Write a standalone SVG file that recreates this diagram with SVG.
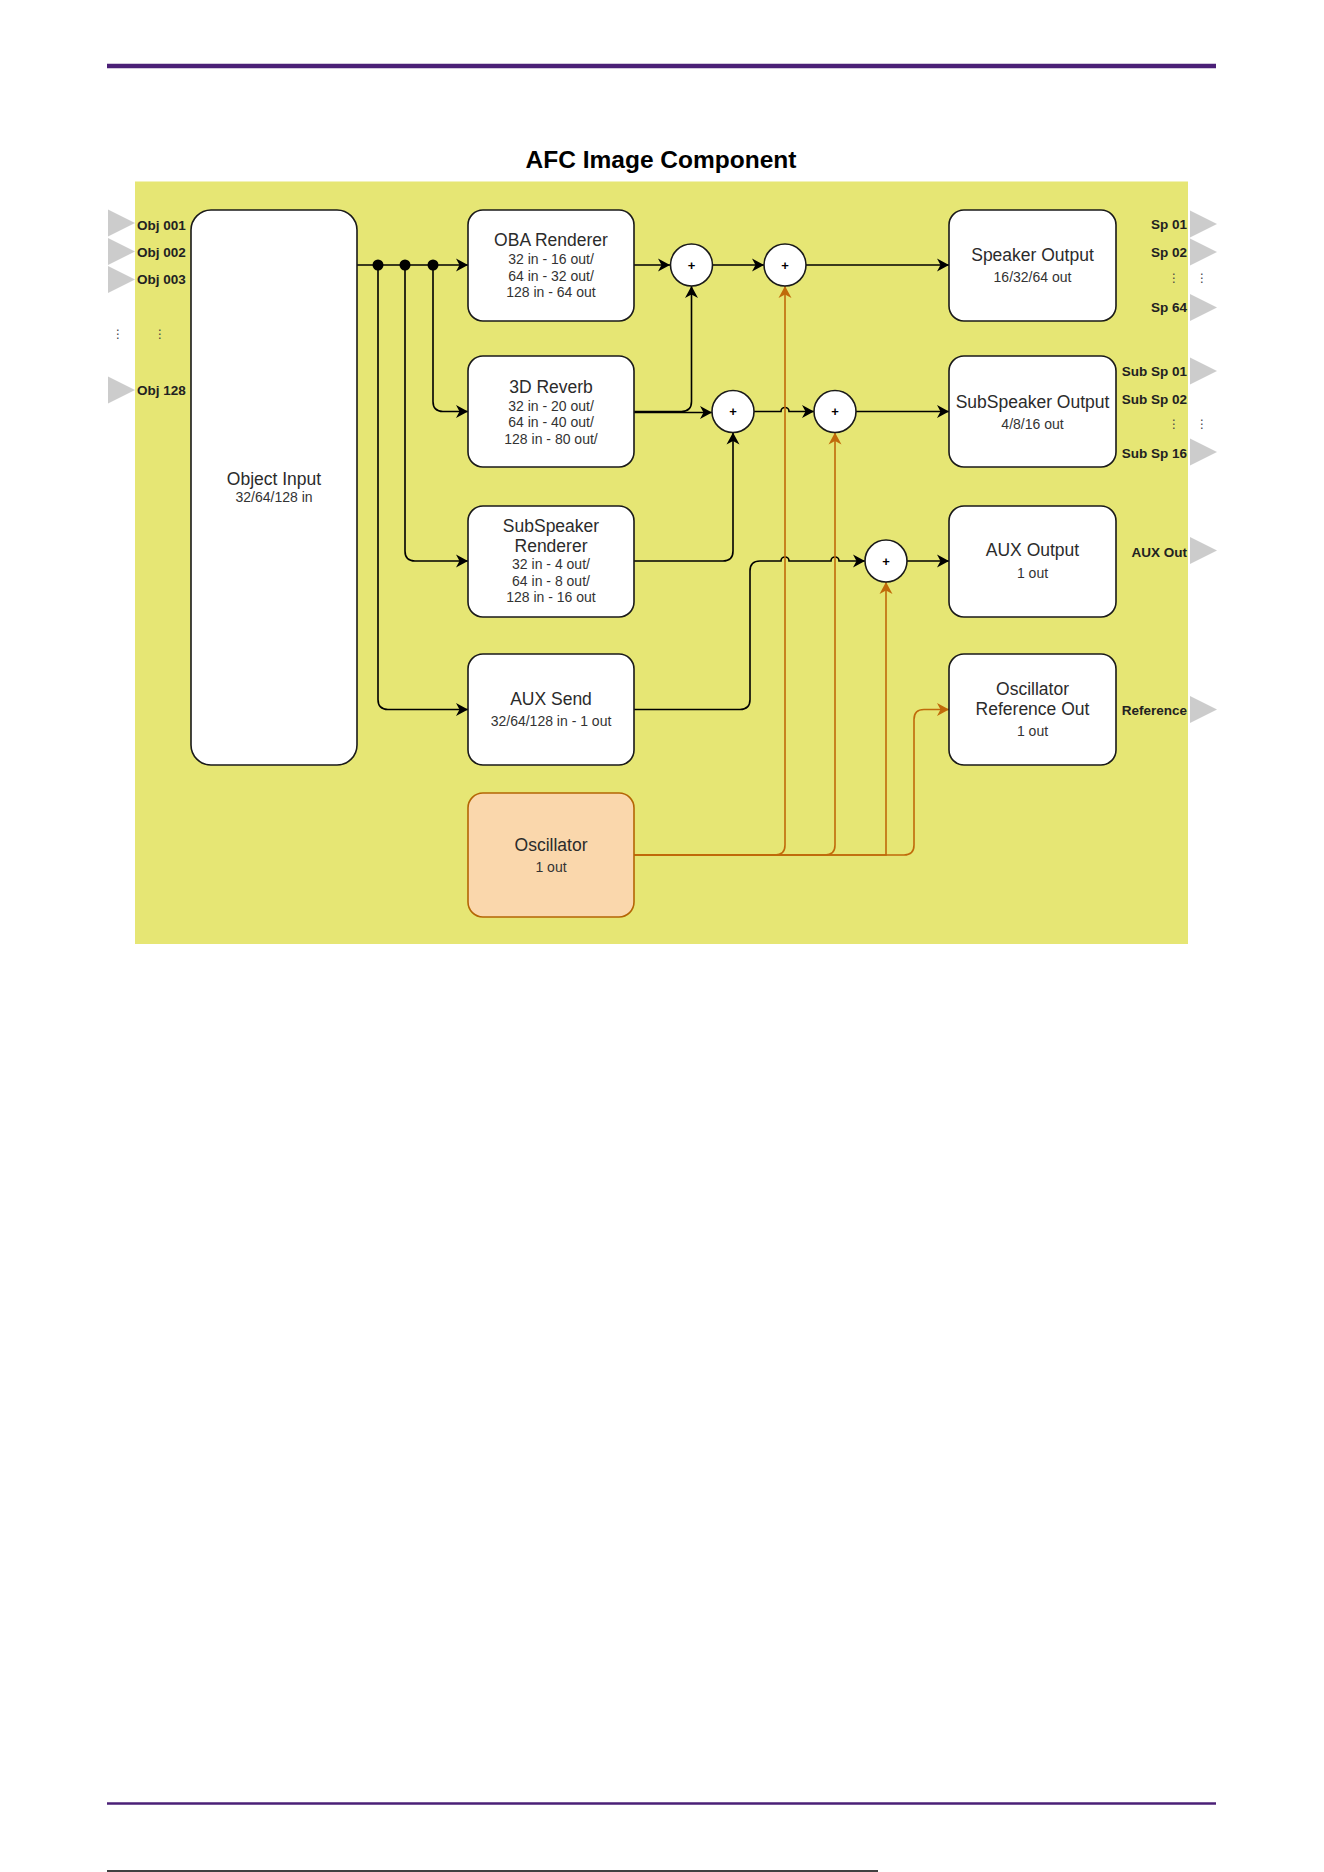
<svg xmlns="http://www.w3.org/2000/svg" width="1324" height="1872" viewBox="0 0 1324 1872">
<defs>
<style>
.node{fill:#fff;stroke:#1a1a1a;stroke-width:1.6}
.osc{fill:#fad7ac;stroke:#b46504;stroke-width:1.6}
.t{font-family:"Liberation Sans",Arial,sans-serif;font-size:17.5px;fill:#2b2b2b;text-anchor:middle}
.s{font-family:"Liberation Sans",Arial,sans-serif;font-size:14px;fill:#333;text-anchor:middle}
.lbl{font-family:"Liberation Sans",Arial,sans-serif;font-size:13.5px;font-weight:bold;fill:#222}
.dots{font-family:"DejaVu Sans",sans-serif;font-size:12px;fill:#444;text-anchor:middle}
.port{fill:#cccccc}
.sum{fill:#fff;stroke:#1a1a1a;stroke-width:1.6}
.plus{font-family:"Liberation Sans",Arial,sans-serif;font-size:13px;font-weight:bold;fill:#000;text-anchor:middle}
.w{fill:none;stroke:#000;stroke-width:1.6}
.o{fill:none;stroke:#c06a0a;stroke-width:1.6}
</style>
<marker id="ab" markerUnits="userSpaceOnUse" markerWidth="13" markerHeight="14" refX="12" refY="7" orient="auto">
<path d="M0,0.5 L12,7 L0,13.5 L3.5,7 Z" fill="#000"/>
</marker>
<marker id="ao" markerUnits="userSpaceOnUse" markerWidth="13" markerHeight="14" refX="12" refY="7" orient="auto">
<path d="M0,0.5 L12,7 L0,13.5 L3.5,7 Z" fill="#c06a0a"/>
</marker>
</defs>
<rect width="1324" height="1872" fill="#fff"/>
<line x1="107" y1="66" x2="1216" y2="66" stroke="#4b2077" stroke-width="4.5"/>
<line x1="107" y1="1803.5" x2="1216" y2="1803.5" stroke="#4b2077" stroke-width="2.5"/>
<line x1="107" y1="1871" x2="878" y2="1871" stroke="#000" stroke-width="1.5"/>
<text x="661" y="168" font-family="Liberation Sans, Arial, sans-serif" font-size="24.5" font-weight="bold" fill="#000" text-anchor="middle">AFC Image Component</text>
<rect id="container" x="135" y="181.5" width="1053" height="762.5" fill="#e6e674"/>
<g id="input-ports">
<polygon class="port" points="108,209.5 135,223 108,236.5"/>
<polygon class="port" points="108,238 135,251.5 108,265"/>
<polygon class="port" points="108,266 135,279.5 108,293"/>
<polygon class="port" points="108,376.5 135,390 108,403.5"/>
<text class="lbl" x="137" y="229.5">Obj 001</text>
<text class="lbl" x="137" y="257">Obj 002</text>
<text class="lbl" x="137" y="284">Obj 003</text>
<text class="lbl" x="137" y="395">Obj 128</text>
<text class="dots" x="118" y="338">⋮</text>
<text class="dots" x="160" y="338">⋮</text>
</g>
<g id="output-ports">
<polygon class="port" points="1190,210.5 1217,224 1190,237.5"/>
<polygon class="port" points="1190,238.5 1217,252 1190,265.5"/>
<polygon class="port" points="1190,294 1217,307.5 1190,321"/>
<polygon class="port" points="1190,357.5 1217,371 1190,384.5"/>
<polygon class="port" points="1190,438.5 1217,452 1190,465.5"/>
<polygon class="port" points="1190,537 1217,550.5 1190,564"/>
<polygon class="port" points="1190,696 1217,709.5 1190,723"/>
<text class="lbl" x="1187" y="229" text-anchor="end">Sp 01</text>
<text class="lbl" x="1187" y="257" text-anchor="end">Sp 02</text>
<text class="lbl" x="1187" y="312" text-anchor="end">Sp 64</text>
<text class="lbl" x="1187" y="376" text-anchor="end">Sub Sp 01</text>
<text class="lbl" x="1187" y="404" text-anchor="end">Sub Sp 02</text>
<text class="lbl" x="1187" y="457.5" text-anchor="end">Sub Sp 16</text>
<text class="lbl" x="1187" y="556.5" text-anchor="end">AUX Out</text>
<text class="lbl" x="1187" y="715" text-anchor="end">Reference</text>
<text class="dots" x="1174" y="281.5">⋮</text>
<text class="dots" x="1202" y="281.5">⋮</text>
<text class="dots" x="1174" y="428">⋮</text>
<text class="dots" x="1202" y="428">⋮</text>
</g>
<g id="connectors">
<path class="w" d="M357,265 H468" marker-end="url(#ab)"/>
<path class="w" d="M433,265 V401.5 Q433,411.5 443,411.5 H468" marker-end="url(#ab)"/>
<path class="w" d="M405,265 V551 Q405,561 415,561 H468" marker-end="url(#ab)"/>
<path class="w" d="M378,265 V699.5 Q378,709.5 388,709.5 H468" marker-end="url(#ab)"/>
<path class="w" d="M634,265 H670" marker-end="url(#ab)"/>
<path class="w" d="M712.5,265 H764" marker-end="url(#ab)"/>
<path class="w" d="M806,265 H949" marker-end="url(#ab)"/>
<path class="w" d="M634,411.5 H681.5 Q691.5,411.5 691.5,401.5 V286" marker-end="url(#ab)"/>
<path class="w" d="M634,412.5 H712" marker-end="url(#ab)"/>
<path class="w" d="M754,411.5 H781 A4,4 0 0 1 789,411.5 H814" marker-end="url(#ab)"/>
<path class="w" d="M856,411.5 H949" marker-end="url(#ab)"/>
<path class="w" d="M634,561 H723 Q733,561 733,551 V432.5" marker-end="url(#ab)"/>
<path class="w" d="M634,709.5 H740 Q750,709.5 750,699.5 V571 Q750,561 760,561 H781 A4,4 0 0 1 789,561 H831 A4,4 0 0 1 839,561 H865" marker-end="url(#ab)"/>
<path class="w" d="M907,561 H949" marker-end="url(#ab)"/>
<path class="o" d="M634,855 H775 Q785,855 785,845 V286" marker-end="url(#ao)"/>
<path class="o" d="M634,855 H825 Q835,855 835,845 V432.5" marker-end="url(#ao)"/>
<path class="o" d="M634,855 H886 V582" marker-end="url(#ao)"/>
<path class="o" d="M634,855 H904 Q914,855 914,845 V719.5 Q914,709.5 924,709.5 H949" marker-end="url(#ao)"/>
<circle cx="378" cy="265" r="5.5" fill="#000"/>
<circle cx="405" cy="265" r="5.5" fill="#000"/>
<circle cx="433" cy="265" r="5.5" fill="#000"/>
</g>
<g id="object-input">
<rect class="node" x="191" y="210" width="166" height="555" rx="20"/>
<text class="t" x="274" y="484.5">Object Input</text>
<text class="s" x="274" y="502.3">32/64/128 in</text>
</g>
<g id="oba-renderer">
<rect class="node" x="468" y="210" width="166" height="111" rx="15"/>
<text class="t" x="551" y="245.5">OBA Renderer</text>
<text class="s" x="551" y="264">32 in - 16 out/</text>
<text class="s" x="551" y="280.7">64 in - 32 out/</text>
<text class="s" x="551" y="297.3">128 in - 64 out</text>
</g>
<g id="reverb">
<rect class="node" x="468" y="356" width="166" height="111" rx="15"/>
<text class="t" x="551" y="393">3D Reverb</text>
<text class="s" x="551" y="410.7">32 in - 20 out/</text>
<text class="s" x="551" y="427.3">64 in - 40 out/</text>
<text class="s" x="551" y="444">128 in - 80 out/</text>
</g>
<g id="subspeaker-renderer">
<rect class="node" x="468" y="506" width="166" height="111" rx="15"/>
<text class="t" x="551" y="532">SubSpeaker</text>
<text class="t" x="551" y="552">Renderer</text>
<text class="s" x="551" y="569">32 in - 4 out/</text>
<text class="s" x="551" y="585.7">64 in - 8 out/</text>
<text class="s" x="551" y="602.3">128 in - 16 out</text>
</g>
<g id="aux-send">
<rect class="node" x="468" y="654" width="166" height="111" rx="15"/>
<text class="t" x="551" y="705.3">AUX Send</text>
<text class="s" x="551" y="726">32/64/128 in - 1 out</text>
</g>
<g id="oscillator">
<rect class="osc" x="468" y="793" width="166" height="124" rx="15"/>
<text class="t" x="551" y="850.5">Oscillator</text>
<text class="s" x="551" y="871.7">1 out</text>
</g>
<g id="sums">
<circle class="sum" cx="691.5" cy="265" r="21"/>
<text class="plus" x="691.5" y="269.5">+</text>
<circle class="sum" cx="785" cy="265" r="21"/>
<text class="plus" x="785" y="269.5">+</text>
<circle class="sum" cx="733" cy="411.5" r="21"/>
<text class="plus" x="733" y="416">+</text>
<circle class="sum" cx="835" cy="411.5" r="21"/>
<text class="plus" x="835" y="416">+</text>
<circle class="sum" cx="886" cy="561" r="21"/>
<text class="plus" x="886" y="565.5">+</text>
</g>
<g id="speaker-output">
<rect class="node" x="949" y="210" width="167" height="111" rx="15"/>
<text class="t" x="1032.5" y="261.3">Speaker Output</text>
<text class="s" x="1032.5" y="281.7">16/32/64 out</text>
</g>
<g id="subspeaker-output">
<rect class="node" x="949" y="356" width="167" height="111" rx="15"/>
<text class="t" x="1032.5" y="408">SubSpeaker Output</text>
<text class="s" x="1032.5" y="429">4/8/16 out</text>
</g>
<g id="aux-output">
<rect class="node" x="949" y="506" width="167" height="111" rx="15"/>
<text class="t" x="1032.5" y="556.3">AUX Output</text>
<text class="s" x="1032.5" y="577.7">1 out</text>
</g>
<g id="osc-ref-out">
<rect class="node" x="949" y="654" width="167" height="111" rx="15"/>
<text class="t" x="1032.5" y="695.3">Oscillator</text>
<text class="t" x="1032.5" y="714.6">Reference Out</text>
<text class="s" x="1032.5" y="735.7">1 out</text>
</g>
</svg>
